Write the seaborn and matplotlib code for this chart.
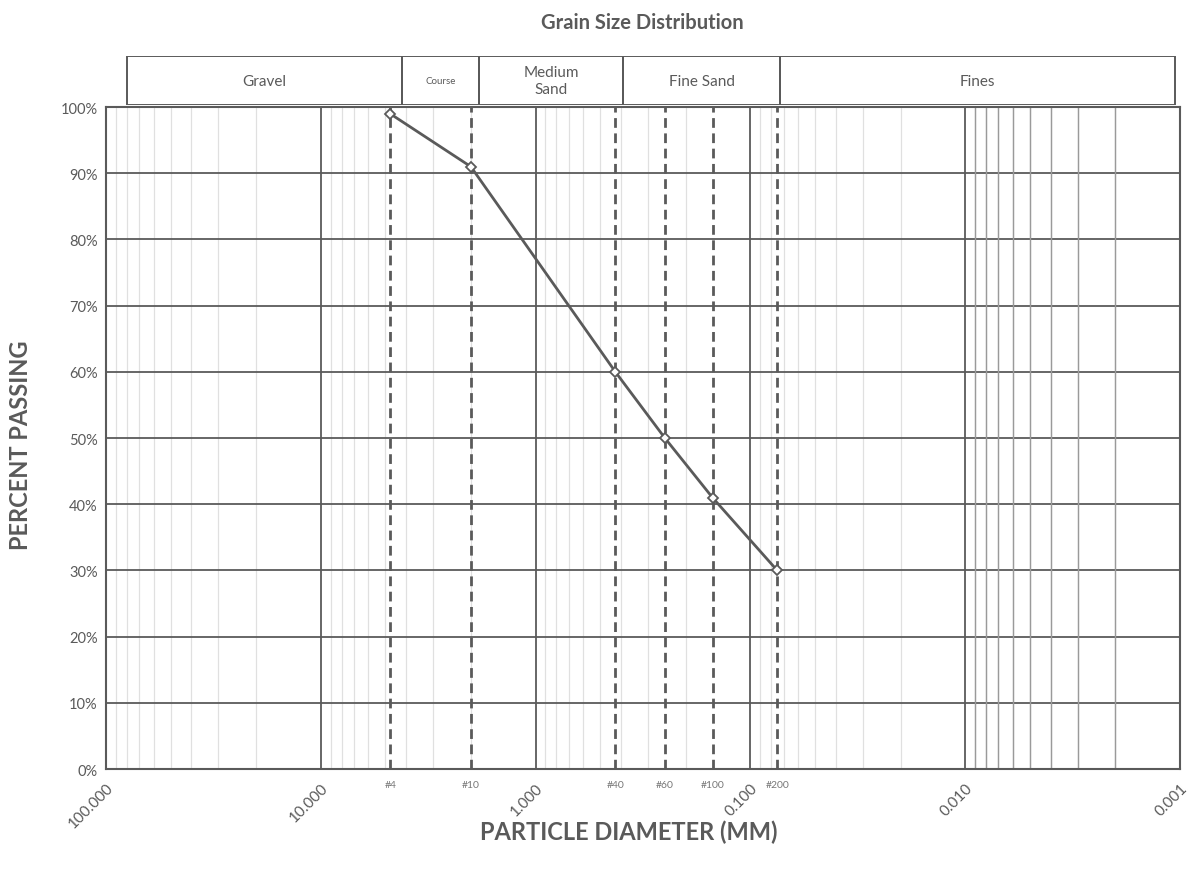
import numpy as np
import pandas as pd
import seaborn as sns
import matplotlib.pyplot as plt
from matplotlib.patches import Rectangle
from matplotlib.ticker import LogLocator, FixedLocator

# sieve data
sieve_names = ['#4', '#10', '#40', '#60', '#100', '#200']
sieve_mm = [4.75, 2.0, 0.425, 0.25, 0.15, 0.075]
pct_passing = [99, 91, 60, 50, 41, 30]

# soil class bands for the header
band_names = ['Gravel', 'Course', 'Medium\nSand', 'Fine Sand', 'Fines']
band_edges = [80, 4.2, 1.83, 0.39, 0.073, 0.00106]
band_fsize = [11, 7, 11, 11, 11]

x_ticks = [100, 10, 1, 0.1, 0.01, 0.001]
y_ticks = list(range(0, 101, 10))

grey = '#5a5a5a'
sns.set_style('white')
plt.rcParams['font.family'] = ['Lato', 'DejaVu Sans']

df = pd.DataFrame({'size': sieve_mm, 'passing': pct_passing})

fig = plt.figure(figsize=(11.9, 8.79), dpi=100)
ax = fig.add_axes([0.089, 0.124, 0.9026, 0.753])
hx = fig.add_axes([0.089, 0.879, 0.9026, 0.056])

ax.set_xscale('log')
ax.set_xlim(100, 0.001)
ax.set_ylim(0, 100)

# grid
ax.xaxis.set_minor_locator(LogLocator(base=10, subs=np.arange(2, 10)))
ax.grid(True, which='minor', axis='x', color='#e0e0e0', lw=0.9)
ax.grid(True, which='major', axis='both', color=grey, lw=1.3)
# darker minor lines in the fines decade
for v in np.arange(2, 10) * 0.001:
    ax.axvline(v, color='#9a9a9a', lw=1.0, zorder=0.6)

for s in sieve_mm:
    ax.axvline(s, color=grey, lw=2, ls=(0, (3.5, 2)), zorder=2)

sns.lineplot(data=df, x='size', y='passing', ax=ax, color=grey, lw=2,
             marker='D', markersize=5, markerfacecolor='white',
             markeredgecolor=grey, markeredgewidth=1.3, zorder=3)

ax.xaxis.set_major_locator(FixedLocator(x_ticks))
ax.set_xticklabels(['%.3f' % t for t in x_ticks], rotation=45,
                   ha='right', rotation_mode='anchor', color=grey, fontsize=11)
ax.set_yticks(y_ticks)
ax.set_yticklabels(['%d%%' % t for t in y_ticks], color=grey, fontsize=10.5)
ax.tick_params(axis='x', which='both', direction='in', length=4, color=grey, pad=8)
ax.tick_params(axis='y', length=0, pad=6)
for sp in ax.spines.values():
    sp.set_color(grey)
    sp.set_linewidth(1.5)

for name, s in zip(sieve_names, sieve_mm):
    ax.text(s, -1.6, name, ha='center', va='top', fontsize=7.5, color='#777777')

ax.set_xlabel('PARTICLE DIAMETER (MM)', fontsize=17, fontweight='bold', color=grey)
ax.set_ylabel('PERCENT PASSING', fontsize=17, fontweight='bold', color=grey)
ax.xaxis.set_label_coords(0.487, -0.077)
ax.yaxis.set_label_coords(-0.069, 0.49)

# header boxes
hx.set_xscale('log')
hx.set_xlim(100, 0.001)
hx.set_ylim(0, 1)
hx.axis('off')
for i, name in enumerate(band_names):
    a, b = band_edges[i], band_edges[i + 1]
    hx.add_patch(Rectangle((b, 0), a - b, 1, fill=False, ec=grey, lw=1.4))
    hx.text(np.sqrt(a * b), 0.5, name, ha='center', va='center',
            fontsize=band_fsize[i], color=grey, linespacing=1.3)

fig.text(0.54, 0.974, 'Grain Size Distribution', ha='center', va='center',
         fontsize=14.5, fontweight='bold', color=grey)

fig.savefig('out.png', dpi=100)
